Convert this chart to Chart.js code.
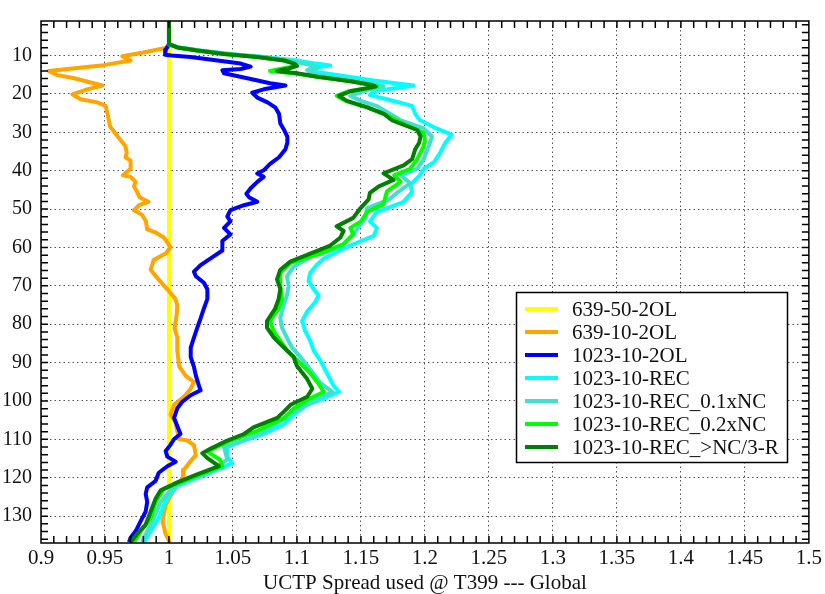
<!DOCTYPE html>
<html><head><meta charset="utf-8">
<script src="https://cdn.jsdelivr.net/npm/chart.js@4"></script>
<style>html,body{margin:0;padding:0;background:#fff}#wrap{width:825px;height:594px;position:relative}</style>
</head><body><div id="wrap"><canvas id="c" width="825" height="594"></canvas></div>
<script>
const seriesLabels = ["639-50-2OL","639-10-2OL","1023-10-2OL","1023-10-REC","1023-10-REC_0.1xNC","1023-10-REC_0.2xNC","1023-10-REC_>NC/3-R"];
const seriesColors = ["#FFFF00","#FFA500","#0000FF","#00FFFF","#40E0D0","#00FF00","#008000"];
const xTicks = [0.9,0.95,1,1.05,1.1,1.15,1.2,1.25,1.3,1.35,1.4,1.45,1.5];
const yTicks = [10,20,30,40,50,60,70,80,90,100,110,120,130];
const xTitle = "UCTP Spread used @ T399 --- Global";

const yellowLevels = [1,137];
const yellowValues = [1.0,1.0];

const orangeLevels = [1,7.5,7.9,9.2,10.2,11.3,12.5,14.0,15.1,15.9,17.8,18.8,20.1,21.4,22.2,23.1,25.2,28.5,31.1,33.6,35.3,36.5,37.4,39.5,41.2,41.6,42.9,44.1,45.4,46.9,48.1,49.0,50.3,51.5,53.2,55.3,56.1,57.4,59.9,61.6,63.3,65.8,68.4,70.9,73.4,75.1,77.6,81.0,83.5,86.9,91,93.4,95.1,96.8,98.9,101,103.5,105.6,107.8,109.9,110.3,111.5,114.1,116.2,117.9,120,121.7,124.6,127.1,131.3,134.7,136.9];
const orangeValues = [1.0,1.0,0.999,0.980,0.9635,0.970,0.949,0.906,0.913,0.926,0.948,0.936,0.9245,0.931,0.944,0.9505,0.952,0.954,0.960,0.966,0.967,0.966,0.970,0.970,0.964,0.970,0.974,0.9727,0.975,0.977,0.984,0.9766,0.9727,0.979,0.982,0.983,0.9896,0.996,1.0013,0.9974,0.988,0.9857,0.992,0.9987,1.005,1.0065,1.006,1.0044,1.0065,1.0065,1.008,1.013,1.0195,1.017,1.0117,1.004,1.0013,1.005,1.0065,1.0078,1.0143,1.0195,1.021,1.0156,1.0117,1.011,1.0065,1.0013,0.9974,0.995,0.9974,1.0008];

const blueLevels = [1,7,8.5,9.8,10.0,10.4,11.3,12.1,12.9,13.5,13.8,14.6,15.9,17.2,17.8,18.8,19.7,20.95,22.2,23.5,25.2,27.7,29.4,31.1,32.7,34.4,36.5,38.2,39.9,40.75,41.6,42.9,44.5,46.0,46.9,48.1,49.0,50.3,51.9,53.2,54.9,56.6,58.3,60.8,62.5,64.6,66.3,67.5,69.2,70.9,73.4,75.9,78.5,81.0,83.5,86.1,88.6,91.1,93.4,96,97.2,98.5,100.2,101.9,104.4,106.5,108.6,109.9,111.5,113,114.5,115.8,117,118.7,120.8,122.5,124.2,126.3,128.8,131.3,133.9,135.6,136.8];
const blueValues = [1.0,1.0,0.9975,0.997,1.002,1.017,1.038,1.056,1.0638,1.056,1.0417,1.043,1.0612,1.079,1.091,1.074,1.065,1.069,1.077,1.083,1.086,1.087,1.090,1.0925,1.0925,1.091,1.086,1.079,1.074,1.069,1.074,1.069,1.064,1.0605,1.0625,1.069,1.0586,1.048,1.0456,1.048,1.043,1.048,1.0417,1.0417,1.034,1.0247,1.0195,1.021,1.0273,1.030,1.030,1.0273,1.0247,1.022,1.0195,1.017,1.017,1.0195,1.021,1.0234,1.0247,1.017,1.0104,1.0065,1.004,1.0065,1.009,1.004,1.001,0.9974,0.9987,1.0052,0.9987,0.992,0.9896,0.983,0.9818,0.983,0.9818,0.9779,0.974,0.970,0.9688];

const cyanLevels = [1,7.05,7.9,8.7,9.6,10.4,11.3,12.1,12.6,13.4,14,15,16.5,17.8,19.3,20.3,21.4,23.1,25.2,26.8,29,30.6,32.7,35.3,37.8,39.5,41.2,43.7,45.6,48.2,50.7,53.2,54.9,57,59.1,61.2,62.9,64.5,66.6,68.7,70.8,72.5,74.2,76.7,79.2,81.8,84.3,86.8,89.3,92.7,96,97.6,99.3,101,103.5,106,108.6,110.3,112,114.5,116.2,117.9,120,122.1,124.6,127.1,130.5,133.9,136.8];
const cyanValues = [1.0,1.0,1.008,1.025,1.048,1.075,1.1,1.115,1.126,1.11,1.11,1.13,1.16,1.1911,1.16,1.157,1.1703,1.19,1.1924,1.196,1.209,1.221,1.2159,1.212,1.207,1.199,1.196,1.1885,1.19,1.183,1.1625,1.157,1.1625,1.160,1.1443,1.131,1.121,1.1156,1.1104,1.109,1.113,1.117,1.1143,1.108,1.104,1.1065,1.1104,1.113,1.118,1.1234,1.1286,1.1328,1.121,1.108,1.0977,1.09,1.074,1.0586,1.0456,1.0456,1.0495,1.0378,1.022,1.0065,1.0,0.996,0.992,0.9857,0.9805];

const turqLevels = [1,7.05,7.9,8.7,9.6,10.4,11.3,12.1,12.5,13.2,13.8,14.5,15.5,16.7,17.6,18,19,20.5,21.8,23.1,25,26.8,29,31.1,33.6,37,39.5,41.2,43.3,45.8,47.5,49.8,52.3,54,56.6,59.9,62.4,65,67.5,70,72.5,75,78.4,80.9,83.4,86,88.5,91.8,95.2,97.6,99.3,103.5,108.6,112,115.3,117.9,122.1,126.3,130.5,134.7,136.8];
const turqValues = [1.0,1.0,1.007,1.023,1.045,1.072,1.095,1.105,1.111,1.117,1.108,1.11,1.125,1.148,1.162,1.1677,1.155,1.1417,1.15,1.162,1.172,1.1807,1.199,1.2055,1.203,1.199,1.194,1.181,1.1885,1.178,1.172,1.1547,1.1535,1.1495,1.1443,1.134,1.1104,1.0974,1.0922,1.0935,1.0922,1.0896,1.087,1.0883,1.092,1.096,1.1026,1.1104,1.118,1.1276,1.117,1.095,1.0716,1.043,1.0456,1.034,1.0039,0.9935,0.9883,0.9818,0.979];

const limeLevels = [1,7.05,7.9,8.7,9.6,10.4,11.3,12.1,12.7,13.3,14.0,14.6,15.5,16.7,17.6,18.1,19.3,20.5,21.8,23.5,25.5,27.7,30.2,32,33.6,37,39.5,41.2,42.9,45.4,47,48.7,50.7,53.2,54.9,56.6,59.1,61.6,64.1,66.6,70,73.4,75.9,79.2,81.8,84.3,86.8,89.3,92.7,95.1,97.6,99.3,101.9,104.4,107.8,110.3,113.2,115.3,117,119.5,122.9,126.3,130.5,133.9,136.8];
const limeValues = [1.0,1.0,1.0065,1.022,1.043,1.069,1.09,1.098,1.1,1.09,1.079,1.097,1.116,1.142,1.158,1.1625,1.14,1.131,1.138,1.155,1.17,1.183,1.199,1.2,1.199,1.194,1.1885,1.176,1.181,1.1703,1.169,1.1677,1.155,1.15,1.1417,1.144,1.1365,1.118,1.0948,1.087,1.087,1.0883,1.0857,1.079,1.0818,1.087,1.0922,1.100,1.1104,1.116,1.121,1.1107,1.0977,1.09,1.069,1.048,1.030,1.040,1.0417,1.022,0.996,0.9896,0.9857,0.978,0.9727];

const dgreenLevels = [1,7.05,7.9,8.7,9.6,10.4,11.3,12.1,12.7,13.3,14.0,14.6,15.5,16.7,17.6,18.1,19.3,20.5,21.8,23.5,25.2,26.8,29.4,31.1,32.7,34.4,37,38.6,40.7,42.4,44.1,45.8,47.5,49.8,52.3,54.5,55.7,57.4,59.5,61.6,63.7,65.8,68.3,70.8,73.4,75.9,79.2,80.9,83.4,86,88.5,90.9,94.3,96.8,98.9,101,102.7,104.4,106.9,108.6,110.3,112.4,113.6,114.9,117,119.1,121.2,123.3,125.4,128.8,132.2,134.7,136.8];
const dgreenValues = [1.0,1.0,1.0065,1.022,1.043,1.069,1.09,1.098,1.1,1.094,1.0846,1.10,1.116,1.142,1.1576,1.1615,1.142,1.1328,1.139,1.155,1.168,1.174,1.194,1.1966,1.1955,1.1924,1.19,1.1833,1.1677,1.1755,1.164,1.157,1.156,1.1495,1.144,1.131,1.1365,1.134,1.126,1.1104,1.0948,1.087,1.0844,1.087,1.0857,1.083,1.0766,1.0766,1.0818,1.0896,1.0974,1.100,1.108,1.112,1.108,1.095,1.09,1.0846,1.066,1.0586,1.0456,1.0326,1.026,1.030,1.039,1.022,1.0065,0.9935,0.9896,0.9857,0.9818,0.975,0.970];

const seriesLevels = [yellowLevels,orangeLevels,blueLevels,cyanLevels,turqLevels,limeLevels,dgreenLevels];
const seriesValues = [yellowValues,orangeValues,blueValues,cyanValues,turqValues,limeValues,dgreenValues];

const FONT = '"Liberation Serif","Times New Roman",serif';

const datasets = seriesLabels.map((lab, i) => ({
  label: lab,
  data: seriesLevels[i].map((lv, k) => ({x: seriesValues[i][k], y: lv})),
  borderColor: seriesColors[i],
  backgroundColor: seriesColors[i],
  borderWidth: 4,
  borderJoinStyle: 'round',
  pointRadius: 0,
  showLine: true,
  fill: false,
  tension: 0,
  order: seriesLabels.length - i
}));

const framePlugin = {
  id: 'frameTicks',
  afterDraw(chart) {
    const ctx = chart.ctx, a = chart.chartArea;
    const xs = chart.scales.x, ys = chart.scales.y;
    ctx.save();
    ctx.strokeStyle = '#000';
    ctx.lineWidth = 1.5;
    ctx.setLineDash([]);
    ctx.beginPath();
    for (let k = 91; k <= 149; k++) {
      const px = xs.getPixelForValue(k / 100);
      ctx.moveTo(px, a.top); ctx.lineTo(px, a.top + 7);
      ctx.moveTo(px, a.bottom); ctx.lineTo(px, a.bottom - 7);
    }
    for (let v = 2; v <= 136; v += 2) {
      const py = ys.getPixelForValue(v);
      ctx.moveTo(a.left, py); ctx.lineTo(a.left + 7, py);
      ctx.moveTo(a.right, py); ctx.lineTo(a.right - 7, py);
    }
    ctx.stroke();
    ctx.strokeRect(a.left, a.top, a.right - a.left, a.bottom - a.top);

    // legend
    const bx = 516.5, by = 292.5, bw = 271, bh = 170;
    ctx.fillStyle = '#fff';
    ctx.fillRect(bx, by, bw, bh);
    ctx.strokeStyle = '#000';
    ctx.lineWidth = 1.5;
    ctx.strokeRect(bx, by, bw, bh);
    ctx.font = '21px ' + FONT;
    ctx.textBaseline = 'middle';
    ctx.textAlign = 'left';
    chart.data.datasets.forEach((ds, i) => {
      const yy = 309 + i * 23;
      ctx.strokeStyle = ds.borderColor;
      ctx.lineWidth = 4;
      ctx.beginPath(); ctx.moveTo(525, yy); ctx.lineTo(558, yy); ctx.stroke();
      ctx.fillStyle = '#111';
      ctx.fillText(ds.label, 572, yy + 1);
    });
    ctx.restore();
  }
};

new Chart(document.getElementById('c'), {
  type: 'scatter',
  data: { datasets },
  options: {
    responsive: false,
    animation: false,
    events: [],
    layout: { padding: { top: 4, right: 16, left: 0, bottom: 0 } },
    plugins: { legend: { display: false }, tooltip: { enabled: false } },
    scales: {
      x: {
        type: 'linear', position: 'bottom', min: 0.9, max: 1.5,
        afterBuildTicks: s => { s.ticks = xTicks.map(v => ({ value: v })); },
        afterFit: s => { s.height = 51; },
        ticks: { callback: v => String(+(+v).toFixed(2)), font: { family: FONT, size: 21 }, color: '#111', padding: 3, maxRotation: 0, autoSkip: false },
        grid: { color: '#555', lineWidth: 1, drawTicks: false },
        border: { display: false, dash: [1.5, 3] },
        title: { display: true, text: xTitle, font: { family: FONT, size: 21, lineHeight: 1 }, color: '#111', padding: { top: 0, bottom: 0 } }
      },
      y: {
        type: 'linear', reverse: true, min: 1, max: 137,
        afterBuildTicks: s => { s.ticks = yTicks.map(v => ({ value: v })); },
        afterFit: s => { s.width = 41; },
        ticks: { font: { family: FONT, size: 20 }, color: '#111', padding: 9, autoSkip: false },
        grid: { color: '#555', lineWidth: 1, drawTicks: false },
        border: { display: false, dash: [1.5, 3] }
      }
    }
  },
  plugins: [framePlugin]
});
</script>
</body></html>
